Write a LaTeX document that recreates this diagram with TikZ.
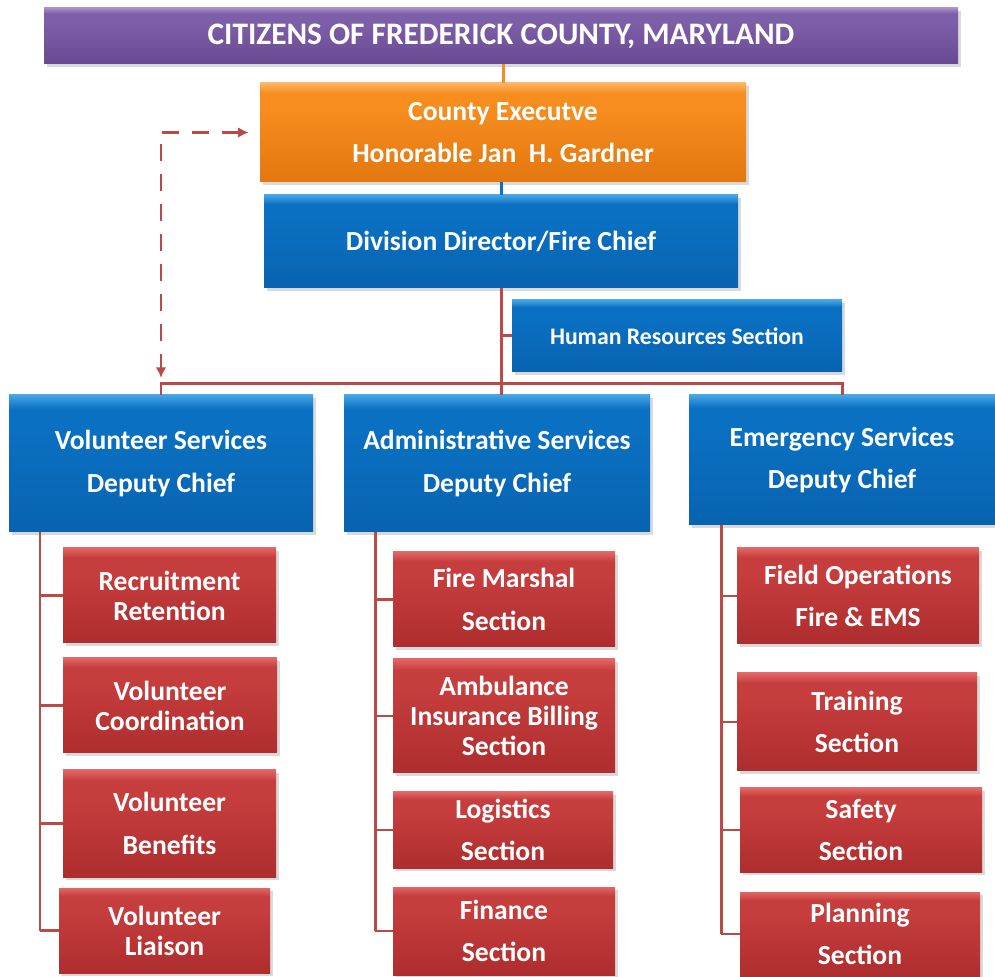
\documentclass[tikz,border=0pt]{standalone}
\usepackage{fontspec}
\setmainfont{Carlito}
\usetikzlibrary{shadows, arrows.meta}

\definecolor{purpletop}{HTML}{A48ECC}
\definecolor{purplemid}{HTML}{7D5EA8}
\definecolor{purplebot}{HTML}{684A92}
\definecolor{orangetop}{HTML}{FDB566}
\definecolor{orangemid}{HTML}{F68D1E}
\definecolor{orangebot}{HTML}{E3780F}
\definecolor{bluetop}{HTML}{45A6E6}
\definecolor{bluemid}{HTML}{0A70C2}
\definecolor{bluebot}{HTML}{0863B0}
\definecolor{redtop}{HTML}{E26664}
\definecolor{redmid}{HTML}{C63D3D}
\definecolor{redbot}{HTML}{AE2D2E}
\definecolor{linkred}{HTML}{B94A48}

% flat fill with a thin light band along the top edge
\pgfdeclareverticalshading{purplebevel}{100bp}{color(0bp)=(purplebot); color(25bp)=(purplebot); color(62bp)=(purplemid); color(70bp)=(purplemid); color(75bp)=(purpletop); color(100bp)=(purpletop)}
\pgfdeclareverticalshading{orangebevel}{100bp}{color(0bp)=(orangebot); color(25bp)=(orangebot); color(62bp)=(orangemid); color(70bp)=(orangemid); color(75bp)=(orangetop); color(100bp)=(orangetop)}
\pgfdeclareverticalshading{bluebevel}{100bp}{color(0bp)=(bluebot); color(25bp)=(bluebot); color(62bp)=(bluemid); color(70bp)=(bluemid); color(75bp)=(bluetop); color(100bp)=(bluetop)}
\pgfdeclareverticalshading{redbevel}{100bp}{color(0bp)=(redbot); color(25bp)=(redbot); color(62bp)=(redmid); color(70bp)=(redmid); color(75bp)=(redtop); color(100bp)=(redtop)}

\tikzset{
  box/.style = {rectangle, align = center, text = white, inner sep = 0pt,
    font = \bfseries\fontsize{15.7}{17}\selectfont,
    drop shadow = {opacity = 0.3, shadow xshift = 0.06cm, shadow yshift = -0.06cm}},
  wh/.style 2 args = {minimum width = #1cm, minimum height = #2cm},
  spread/.style = {font = \bfseries\fontsize{15.7}{24}\selectfont},
  purplebox/.style = {box, shade, shading = purplebevel},
  orangebox/.style = {box, shade, shading = orangebevel},
  bluebox/.style = {box, shade, shading = bluebevel},
  redbox/.style = {box, shade, shading = redbevel},
  link/.style = {draw = linkred, line width = 1.7pt},
  dashlink/.style = {link, dash pattern = on 0.34cm off 0.26cm,
    arrows = {Latex[length = 6pt, width = 6pt]-Latex[length = 6pt, width = 6pt]}}
}

\begin{document}
\begin{tikzpicture} [scale = 1]
\useasboundingbox (0.0, 0.0) rectangle (19.9, 19.52);

% top of the chart
\node[purplebox, wh = {18.28}{1.12}, font = \bfseries\fontsize{17.8}{20}\selectfont] (citizens) at (10.02, 18.80){CITIZENS OF FREDERICK COUNTY, MARYLAND};
\node[orangebox, spread, wh = {9.72}{1.98}] (exec) at (10.06, 16.87){County Executve\\Honorable Jan\ \ H. Gardner};
\node[bluebox, wh = {9.48}{1.86}] (chief) at (10.02, 14.69){Division Director/Fire Chief};
\node[bluebox, wh = {6.60}{1.44}, font = \bfseries\fontsize{13.5}{16}\selectfont] (hr) at (13.54, 12.80){Human Resources Section};

% deputy chiefs
\node[bluebox, spread, wh = {6.08}{2.74}] (volunteer) at (3.22, 10.25){Volunteer Services\\Deputy Chief};
\node[bluebox, spread, wh = {6.12}{2.74}] (admin) at (9.94, 10.25){Administrative Services\\Deputy Chief};
\node[bluebox, spread, wh = {6.12}{2.60}] (emergency) at (16.84, 10.32){Emergency Services\\Deputy Chief};

% sections under volunteer services
\node[redbox, wh = {4.26}{1.90}] (recruit) at (3.39, 7.61){Recruitment\\Retention};
\node[redbox, wh = {4.28}{1.90}] (coord) at (3.40, 5.41){Volunteer\\Coordination};
\node[redbox, spread, wh = {4.26}{2.14}] (benefits) at (3.39, 3.05){Volunteer\\Benefits};
\node[redbox, wh = {4.22}{1.70}] (liaison) at (3.29, 0.91){Volunteer\\Liaison};

% sections under administrative services
\node[redbox, spread, wh = {4.44}{1.90}] (marshal) at (10.08, 7.53){Fire Marshal\\Section};
\node[redbox, wh = {4.44}{2.28}] (billing) at (10.08, 5.20){Ambulance\\Insurance Billing\\Section};
\node[redbox, spread, wh = {4.40}{1.52}] (logistics) at (10.06, 2.92){Logistics\\Section};
\node[redbox, spread, wh = {4.44}{1.76}] (finance) at (10.08, 0.90){Finance\\Section};

% sections under emergency services
\node[redbox, spread, wh = {4.84}{1.92}] (fieldops) at (17.16, 7.60){Field Operations\\Fire \& EMS};
\node[redbox, spread, wh = {4.80}{1.96}] (training) at (17.14, 5.08){Training\\Section};
\node[redbox, spread, wh = {4.84}{1.68}] (safety) at (17.22, 2.92){Safety\\Section};
\node[redbox, spread, wh = {4.80}{1.68}] (planning) at (17.20, 0.84){Planning\\Section};

% chain of command
\draw[link, draw = orangemid] (exec.north |- citizens.south) -- (exec.north);
\draw[link, draw = bluemid] (chief.north) -- (chief.north |- exec.south);
\coordinate (bus) at (10.02, 11.84);
\draw[link] (chief.south) -- (chief.south |- admin.north);
\draw[link] (volunteer.north) |- (bus) -| (emergency.north);
\draw[link] (hr.west) -- (hr.west -| chief.south);
\draw[dashlink] ([xshift = -0.22cm]exec.west) -| ([yshift = 0.12cm]bus -| volunteer.north);

% volunteer trunk
\coordinate (voltrunk) at (0.8, 0.0);
\draw[link] (volunteer.south -| voltrunk) -- (liaison.west -| voltrunk);
\draw[link] (recruit.west) -- (recruit.west -| voltrunk);
\draw[link] (coord.west) -- (coord.west -| voltrunk);
\draw[link] (benefits.west) -- (benefits.west -| voltrunk);
\draw[link] (liaison.west) -- (liaison.west -| voltrunk);

% administrative trunk
\coordinate (admtrunk) at (7.5, 0.0);
\draw[link] (admin.south -| admtrunk) -- (finance.west -| admtrunk);
\draw[link] (marshal.west) -- (marshal.west -| admtrunk);
\draw[link] (billing.west) -- (billing.west -| admtrunk);
\draw[link] (logistics.west) -- (logistics.west -| admtrunk);
\draw[link] (finance.west) -- (finance.west -| admtrunk);

% emergency trunk
\coordinate (emtrunk) at (14.42, 0.0);
\draw[link] (emergency.south -| emtrunk) -- (planning.west -| emtrunk);
\draw[link] (fieldops.west) -- (fieldops.west -| emtrunk);
\draw[link] (training.west) -- (training.west -| emtrunk);
\draw[link] (safety.west) -- (safety.west -| emtrunk);
\draw[link] (planning.west) -- (planning.west -| emtrunk);
\end{tikzpicture}
\end{document}
